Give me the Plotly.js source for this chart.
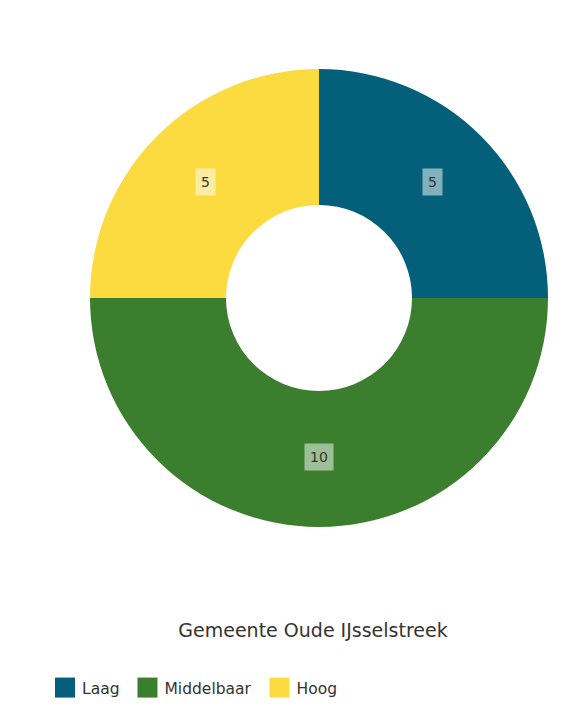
<!DOCTYPE html>
<html>
<head>
<meta charset="utf-8">
<script src="https://cdn.plot.ly/plotly-3.0.1.min.js"></script>
<style>html,body{margin:0;padding:0;background:#fff;}#chart{width:563px;height:706px;}</style>
</head>
<body>
<div id="chart"></div>
<script>
const categories = ["Laag", "Middelbaar", "Hoog"];
const values = [5, 10, 5];
const colors = ["#04607a", "#3b7f2e", "#fcdb40"];
const chartTitle = "Gemeente Oude IJsselstreek";

const W = 563, H = 706;
const cx = 319, cy = 298, R = 229, r0 = 93;
const domX = [(cx - R) / W, (cx + R) / W];
const domY = [(H - (cy + R)) / H, (H - (cy - R)) / H];
const hole = r0 / R;
const FONT = "DejaVu Sans, Arial, sans-serif";

// label annotations placed at slice mid-angle, mid-ring radius (computed from data)
const total = values.reduce((a, b) => a + b, 0);
let cum = 0;
const annotations = values.map((v) => {
  const mid = (cum + v / 2) / total;
  cum += v;
  const ang = mid * 2 * Math.PI; // clockwise from top
  const rm = (R + r0) / 2;
  const px = cx + rm * Math.sin(ang);
  const py = cy - rm * Math.cos(ang) - 2;
  return {
    x: px / W, y: 1 - py / H, xref: "paper", yref: "paper",
    text: String(v), showarrow: false,
    font: {family: FONT, size: 14, color: "#333"},
    bgcolor: "rgba(255,255,255,0.5)", borderpad: 5,
    xanchor: "center", yanchor: "middle"
  };
});

const data = [{
  type: "pie",
  labels: categories,
  values: values,
  hole: hole,
  sort: false,
  direction: "clockwise",
  rotation: 0,
  marker: {colors: colors, line: {width: 0}},
  textinfo: "none",
  hoverinfo: "label+value",
  domain: {x: domX, y: domY}
}];

const layout = {
  width: W, height: H,
  margin: {l: 0, r: 0, t: 0, b: 0},
  paper_bgcolor: "#fff",
  showlegend: true,
  title: {
    text: chartTitle,
    x: 313 / W, xanchor: "center",
    y: 1 - 630 / H, yanchor: "middle",
    font: {family: FONT, size: 19, color: "#333"}
  },
  legend: {
    orientation: "h",
    x: 42 / W, xanchor: "left",
    y: 1 - 688 / H, yanchor: "middle",
    font: {family: FONT, size: 15.5, color: "#333"},
    traceorder: "normal"
  },
  annotations: annotations
};

Plotly.newPlot("chart", data, layout, {displayModeBar: false, staticPlot: true}).then(() => {
  document.querySelectorAll("#chart .legend .legendpoints path").forEach((p) => {
    p.setAttribute("d", "M-7,-10H13V10H-7Z");
  });
});
</script>
</body>
</html>
